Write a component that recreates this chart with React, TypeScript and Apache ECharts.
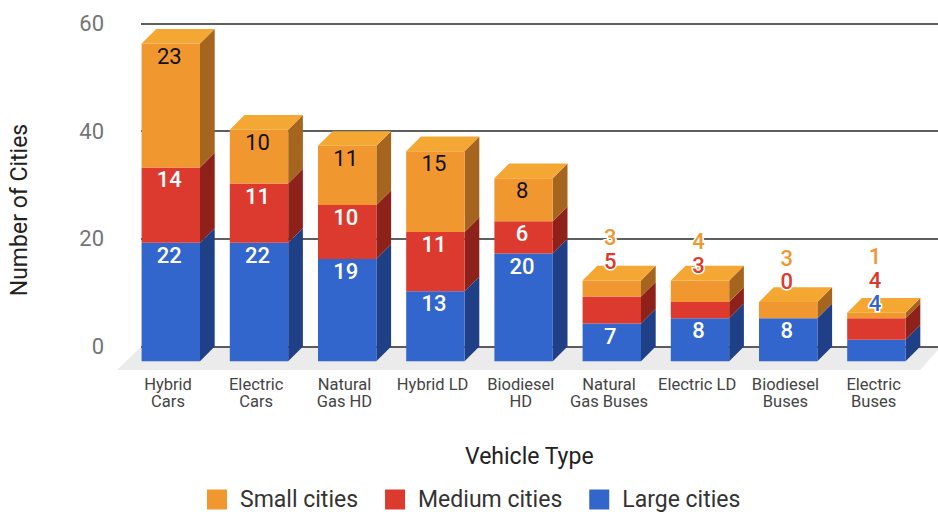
import React, { useEffect, useRef } from "react";
import * as echarts from "echarts";

const categories = [
  "Hybrid\nCars",
  "Electric\nCars",
  "Natural\nGas HD",
  "Hybrid LD",
  "Biodiesel\nHD",
  "Natural\nGas Buses",
  "Electric LD",
  "Biodiesel\nBuses",
  "Electric\nBuses",
];
const largeCities = [22, 22, 19, 13, 20, 7, 8, 8, 4];
const mediumCities = [14, 11, 10, 11, 6, 5, 3, 0, 4];
const smallCities = [23, 10, 11, 15, 8, 3, 4, 3, 1];
const yTicks = { min: 0, max: 60, interval: 20 };

const FONT = "Roboto";
const DX = 14.7;
const DY = 14.7;
const BAR_RATIO = 58.4 / 88.2;
const INSIDE_MIN = 6;
const LABEL_STEP = 23.5;
// collision lift of the first outside label per category, in pixels
const firstLift = [0, 0, 0, 0, 0, 19, 15, 20, 9];

const stacks = [
  { name: "Large cities", values: largeCities, front: "#3366CC", side: "#1F3F86", top: "#3366CC", inner: "#FFFFFF" },
  { name: "Medium cities", values: mediumCities, front: "#DC3A2E", side: "#8E2119", top: "#DC3A2E", inner: "#FFFFFF" },
  { name: "Small cities", values: smallCities, front: "#F19730", side: "#A5651E", top: "#F4A732", inner: "#111111" },
];

function baseOf(stackIndex: number, i: number) {
  let s = 0;
  for (let k = 0; k < stackIndex; k++) s += stacks[k].values[i];
  return s;
}
const totals = categories.map((_, i) => baseOf(3, i));

function barSeries(stackIndex: number) {
  const st = stacks[stackIndex];
  return {
    type: "custom",
    name: st.name,
    xAxisIndex: 1,
    yAxisIndex: 1,
    z: 3,
    clip: false,
    itemStyle: { color: st.front },
    encode: { x: 0, y: 2 },
    data: st.values.map((v, i) => [i, baseOf(stackIndex, i), baseOf(stackIndex, i) + v]),
    renderItem: (_p: any, api: any) => {
      const i = api.value(0);
      const lo = api.coord([i, api.value(1)]);
      const hi = api.coord([i, api.value(2)]);
      const w = api.size([1, 0])[0] * BAR_RATIO;
      const x0 = lo[0] - DX - w / 2;
      const x1 = x0 + w;
      const yB = lo[1] + DY;
      const yT = hi[1] + DY;
      const children: any[] = [];
      if (yB - yT > 0.1) {
        children.push({
          type: "polygon",
          shape: { points: [[x1, yB], [x1 + DX, yB - DY], [x1 + DX, yT - DY], [x1, yT]] },
          style: { fill: st.side },
        });
        children.push({
          type: "rect",
          shape: { x: x0, y: yT, width: w, height: yB - yT },
          style: { fill: st.front },
        });
      }
      if (stackIndex === 2) {
        children.push({
          type: "polygon",
          shape: { points: [[x0, yT], [x0 + DX, yT - DY], [x1 + DX, yT - DY], [x1, yT]] },
          style: { fill: st.top },
        });
      }
      return { type: "group", children };
    },
  };
}

type LabelRow = { i: number; segTop: number; value: number; stack: number; rank: number };
const labelRows: LabelRow[] = [];
categories.forEach((_, i) => {
  let rank = 0;
  stacks.forEach((st, s) => {
    const v = st.values[i];
    const inside = v >= INSIDE_MIN;
    labelRows.push({ i, segTop: baseOf(s, i) + v, value: v, stack: s, rank: inside ? -1 : rank });
    if (!inside) rank++;
  });
});

const labelSeries = {
  type: "custom",
  name: "labels",
  xAxisIndex: 1,
  yAxisIndex: 1,
  z: 5,
  clip: false,
  encode: { x: 0, y: 1 },
  data: labelRows.map((r) => [r.i, r.segTop]),
  renderItem: (p: any, api: any) => {
    const r = labelRows[p.dataIndex];
    const c = api.coord([r.i, r.segTop]);
    const topOfBar = api.coord([r.i, totals[r.i]])[1] + DY;
    const x = c[0] - DX - 1.5;
    const inside = r.rank < 0;
    const y = inside ? c[1] + DY + 12.5 : topOfBar - firstLift[r.i] - LABEL_STEP * r.rank;
    return {
      type: "text",
      x,
      y,
      style: {
        text: String(r.value),
        fontFamily: FONT,
        fontSize: 22,
        fontWeight: inside && r.stack === 2 ? 400 : 500,
        fill: inside ? stacks[r.stack].inner : stacks[r.stack].front,
        stroke: inside ? undefined : "#FFFFFF",
        lineWidth: inside ? 0 : 3,
        align: "center",
        verticalAlign: "middle",
      },
    };
  },
};

export default function App() {
  const ref = useRef<HTMLDivElement>(null);
  useEffect(() => {
    const chart = echarts.init(ref.current!, undefined, { renderer: "svg" });
    chart.setOption({
      animation: false,
      backgroundColor: "#FFFFFF",
      textStyle: { fontFamily: FONT },
      grid: [
        { left: 141, top: 23.5, width: 797, height: 323, outerBoundsMode: "none" },
        { left: 141.4, top: 23.5, width: 793.8, height: 323, outerBoundsMode: "none" },
      ],
      xAxis: [
        { type: "category", gridIndex: 0, show: false, data: categories },
        {
          type: "category",
          gridIndex: 1,
          data: categories,
          axisLine: { show: false },
          axisTick: { show: false },
          axisLabel: {
            interval: 0,
            margin: 29,
            fontFamily: FONT,
            fontSize: 16.5,
            lineHeight: 17,
            color: "#444444",
            padding: [0, 35, 0, 0],
          },
          name: "Vehicle Type",
          nameLocation: "middle",
          nameGap: 98,
          nameTextStyle: { fontFamily: FONT, fontSize: 23, color: "#222222", padding: [0, 18, 0, 0] },
        },
      ],
      yAxis: [
        {
          type: "value",
          gridIndex: 0,
          ...yTicks,
          axisLine: { show: false },
          axisTick: { show: false },
          splitLine: { show: true, lineStyle: { color: "#2A2A2A", width: 1.5 } },
          axisLabel: { margin: 37, fontFamily: FONT, fontSize: 22, color: "#757575" },
          name: "Number of Cities",
          nameLocation: "middle",
          nameRotate: 90,
          nameGap: 110,
          nameTextStyle: { fontFamily: FONT, fontSize: 23, color: "#222222", padding: [0, 50, 0, 0] },
        },
        { type: "value", gridIndex: 1, ...yTicks, show: false, splitLine: { show: false } },
      ],
      legend: {
        data: ["Small cities", "Medium cities", "Large cities"],
        left: 207,
        top: 488,
        padding: 0,
        icon: "rect",
        itemWidth: 20,
        itemHeight: 20,
        itemGap: 27,
        selectedMode: false,
        textStyle: { fontFamily: FONT, fontSize: 23, lineHeight: 20, color: "#333333", padding: [0, 0, 0, 8] },
      },
      graphic: [
        {
          type: "polygon",
          z: -1,
          shape: { points: [[141, 346.5], [938, 346.5], [938, 350], [920, 370], [117, 370]] },
          style: { fill: "#EBEBEB" },
        },
      ],
      series: [barSeries(0), barSeries(1), barSeries(2), labelSeries],
    });
    return () => chart.dispose();
  }, []);
  return <div ref={ref} style={{ position: "absolute", left: 0, top: 0, width: 938, height: 512 }} />;
}
